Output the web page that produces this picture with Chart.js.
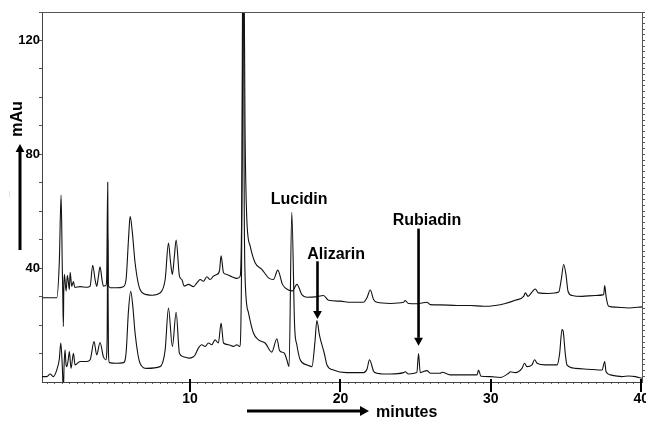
<!DOCTYPE html>
<html>
<head>
<meta charset="utf-8">
<script src="https://cdn.jsdelivr.net/npm/chart.js@4.4.0/dist/chart.umd.min.js"></script>
<style>
  html, body { margin: 0; padding: 0; background: #fff; }
</style>
</head>
<body>
<canvas id="myChart" width="646" height="425"></canvas>
<script>
// retention time (min) and absorbance (mAu)
const upperTime = [
  0.15, 1.13, 1.3, 1.42, 1.5, 1.53, 1.57, 1.6, 1.64, 1.75,
  1.84, 1.97, 2.02, 2.13, 2.24, 2.33, 2.68, 3.13, 3.35, 3.52,
  3.68, 3.79, 3.9, 4.01, 4.14, 4.23, 4.39, 4.45, 4.52, 4.56,
  4.68, 5.12, 5.56, 5.74, 5.9, 6.01, 6.15, 6.34, 6.67, 7.12,
  7.5, 8.0, 8.34, 8.56, 8.7, 8.82, 8.95, 9.07, 9.29, 9.45,
  9.6, 9.89, 10.22, 10.45, 10.67, 10.89, 11.11, 11.33, 11.55, 11.78,
  11.95, 12.06, 12.22, 12.44, 12.77, 13.11, 13.33, 13.45, 13.55, 13.65,
  13.77, 13.99, 14.32, 14.77, 15.21, 15.54, 15.83, 16.14, 16.54, 16.8,
  17.1, 17.43, 17.76, 18.32, 18.87, 19.2, 19.98, 20.65, 21.53, 21.76,
  21.98, 22.2, 22.42, 23.31, 24.19, 24.3, 24.52, 25.08, 25.75, 25.97,
  26.63, 27.74, 28.63, 29.51, 30.29, 30.96, 31.62, 32.18, 32.29, 32.47,
  32.73, 32.95, 33.17, 33.84, 34.51, 34.68, 34.84, 35.0, 35.13, 35.4,
  36.06, 36.95, 37.5, 37.57, 37.66, 37.83, 38.28, 39.16, 40.05
];
const upperAbs = [
  29.6, 29.6, 42, 65.7, 40, 31.4, 19.5, 33, 37.8, 31.9,
  37.5, 32.5, 38.5, 33.6, 35.3, 33.2, 33.5, 33.3, 33.7, 41.0,
  36.0, 33.6, 37.0, 40.5, 36.0, 33.7, 33.9, 36, 70.2, 34,
  33.1, 33.1, 33.5, 36.0, 50, 58.2, 53, 41.9, 32.5, 30.7,
  30.5, 31.3, 36.0, 48.8, 42, 37.8, 44, 49.9, 37.2, 36.0,
  33.7, 34.3, 33.5, 34.8, 36.0, 35.4, 37.0, 36.0, 37.2, 37.8,
  39.0, 44.3, 38.4, 37.8, 37.0, 36.4, 37.2, 70, 170, 90,
  57.2, 47.8, 41.9, 39.6, 36.6, 36.0, 39.3, 34.3, 32.3, 32.0,
  34.3, 30.7, 29.8, 29.9, 30.4, 28.7, 28.4, 28.0, 28.0, 29.6,
  32.3, 29.0, 28.0, 27.6, 28.0, 28.6, 27.6, 27.5, 28.0, 27.2,
  27.1, 26.9, 26.9, 26.6, 26.9, 27.6, 28.7, 30.1, 31.3, 30.1,
  31.6, 32.7, 31.3, 31.1, 31.6, 36.0, 41.3, 37.5, 31.9, 30.4,
  30.1, 30.4, 30.7, 33.9, 30.1, 26.6, 26.3, 26.0, 26.4
];

const lowerTime = [
  0.15, 0.47, 0.69, 0.9, 1.13, 1.3, 1.4, 1.5, 1.57, 1.62,
  1.68, 1.75, 1.8, 1.9, 1.97, 2.08, 2.24, 2.35, 2.68, 3.13,
  3.35, 3.61, 3.79, 4.01, 4.23, 4.39, 4.48, 4.52, 4.57, 4.63,
  5.12, 5.56, 5.74, 5.9, 6.05, 6.2, 6.34, 6.67, 7.12, 8.0,
  8.34, 8.56, 8.82, 9.07, 9.29, 9.55, 9.89, 10.22, 10.33, 10.55,
  10.77, 11.0, 11.22, 11.44, 11.66, 11.88, 12.06, 12.22, 12.55, 12.88,
  13.11, 13.29, 13.42, 13.52, 13.6, 13.66, 13.88, 14.21, 14.55, 14.99,
  15.43, 15.77, 15.95, 16.27, 16.43, 16.58, 16.76, 16.95, 17.1, 17.32,
  17.76, 18.1, 18.3, 18.43, 18.6, 18.92, 19.1, 19.53, 20.4, 21.53,
  21.76, 21.93, 22.2, 22.42, 23.31, 24.19, 24.3, 24.52, 25.08, 25.19,
  25.3, 25.75, 25.97, 26.63, 26.75, 27.3, 28.63, 29.08, 29.18, 29.34,
  29.96, 30.63, 31.18, 31.29, 31.62, 32.07, 32.24, 32.4, 32.73, 32.91,
  33.07, 33.62, 34.4, 34.57, 34.73, 34.8, 34.95, 35.06, 35.62, 36.5,
  37.39, 37.57, 37.66, 37.95, 38.72, 39.16, 39.61, 40.05
];
const lowerAbs = [
  1.9, 1.9, 2.8, 1.9, 4.2, 8, 13.7, 5.4, -3, 6,
  11.3, 6, 5.4, 8, 10.7, 4.8, 10.1, 6.0, 7.2, 7.2,
  7.8, 14.2, 9.5, 13.9, 8.9, 7.8, 15, 50, 10, 6.8,
  6.6, 6.8, 10.1, 25, 31.9, 26, 17.2, 6.6, 4.8, 5.4,
  11.3, 26.0, 12.5, 24.5, 10.1, 8.9, 8.4, 8.9, 9.5, 11.9,
  13.1, 12.5, 13.7, 13.1, 14.8, 13.7, 20.7, 13.7, 13.1, 12.5,
  13.1, 12.5, 40, 170, 60, 36, 24.3, 17.2, 14.8, 13.7,
  10.5, 15.2, 11.0, 10.1, 7.8, 5.4, 59.6, 19.5, 13.0, 7.8,
  6.0, 5.4, 14.0, 21.6, 16.5, 10.1, 6.0, 4.2, 3.3, 3.3,
  4.5, 7.8, 3.8, 3.1, 2.8, 3.3, 3.6, 2.8, 3.3, 10.0,
  3.3, 4.0, 3.1, 3.1, 3.4, 2.5, 2.5, 2.5, 4.2, 2.0,
  1.9, 1.6, 3.1, 3.6, 3.3, 4.8, 6.6, 5.4, 6.0, 7.8,
  6.6, 6.0, 6.0, 9.9, 18.4, 18.0, 9.9, 6.0, 4.8, 4.5,
  4.2, 7.2, 3.6, 2.5, 1.9, 2.1, 1.9, 1.3
];

const xLabelValues = [10, 20, 30, 40];
const yLabelValues = [40, 80, 120];

const FONT = "'Liberation Sans', Arial, sans-serif";

const toPoints = (times, values) => times.map((t, i) => ({ x: t, y: values[i] }));

const steps = (from, to, step) => {
  const out = [];
  for (let v = from; v <= to + 1e-9; v += step) out.push({ value: Math.round(v * 100) / 100 });
  return out;
};

// peak names, placed in data units
const peakNotes = [
  { text: "Lucidin", tx: 17.25, ty: 64 },
  { text: "Alizarin", tx: 19.71, ty: 44.9, ax: 18.47, from: 42.4, to: 22.1 },
  { text: "Rubiadin", tx: 25.75, ty: 56.6, ax: 25.19, from: 53.9, to: 12.7 },
];

function arrow(ctx, x1, y1, x2, y2, width, head) {
  const ang = Math.atan2(y2 - y1, x2 - x1);
  const bx = x2 - head * Math.cos(ang);
  const by = y2 - head * Math.sin(ang);
  const half = head * 0.55;
  ctx.lineWidth = width;
  ctx.beginPath();
  ctx.moveTo(x1, y1);
  ctx.lineTo(bx, by);
  ctx.stroke();
  ctx.beginPath();
  ctx.moveTo(x2, y2);
  ctx.lineTo(bx + half * Math.sin(ang), by - half * Math.cos(ang));
  ctx.lineTo(bx - half * Math.sin(ang), by + half * Math.cos(ang));
  ctx.closePath();
  ctx.fill();
}

// keep the plot box fixed: no extra room for the edge labels
const noSidePad = (s) => {
  s.paddingLeft = 0;
  s.paddingRight = 0;
  s.paddingTop = 0;
  s.paddingBottom = 0;
};

const decor = {
  id: "decor",
  afterDraw(chart) {
    const { ctx, chartArea: a } = chart;
    const x = chart.scales.x;
    const y = chart.scales.y;
    ctx.save();

    // top frame line
    ctx.strokeStyle = "#555";
    ctx.lineWidth = 1;
    ctx.beginPath();
    ctx.moveTo(a.left, a.top + 0.5);
    ctx.lineTo(a.right, a.top + 0.5);
    ctx.stroke();

    // long ticks at the labelled minutes
    ctx.strokeStyle = "#000";
    ctx.lineWidth = 2;
    xLabelValues.forEach((v) => {
      const px = Math.round(x.getPixelForValue(v));
      ctx.beginPath();
      ctx.moveTo(px, a.bottom - 3);
      ctx.lineTo(px, a.bottom + 10);
      ctx.stroke();
    });

    ctx.fillStyle = "#000";
    ctx.strokeStyle = "#000";
    ctx.font = "bold 16px " + FONT;
    ctx.textAlign = "center";
    ctx.textBaseline = "middle";
    peakNotes.forEach((n) => {
      ctx.fillText(n.text, x.getPixelForValue(n.tx), y.getPixelForValue(n.ty));
      if (n.ax !== undefined) {
        const px = x.getPixelForValue(n.ax);
        arrow(ctx, px, y.getPixelForValue(n.from), px, y.getPixelForValue(n.to), 2.6, 8);
      }
    });

    // axis titles with arrows
    arrow(ctx, 20, 250, 20, 144, 3, 8);
    ctx.save();
    ctx.translate(17.5, 119);
    ctx.rotate(-Math.PI / 2);
    ctx.fillText("mAu", 0, 0);
    ctx.restore();

    arrow(ctx, 247, 411, 369, 411, 3, 9);
    ctx.textAlign = "left";
    ctx.textBaseline = "alphabetic";
    ctx.fillText("minutes", 376, 417);

    ctx.save();
    ctx.fillStyle = "#777";
    ctx.font = "7px " + FONT;
    ctx.translate(10, 194);
    ctx.rotate(-Math.PI / 2);
    ctx.textAlign = "center";
    ctx.fillText("...", 0, 0);
    ctx.restore();

    ctx.restore();
  },
};

new Chart("myChart", {
  type: "line",
  data: {
    datasets: [
      {
        label: "upper",
        data: toPoints(upperTime, upperAbs),
        borderColor: "#111",
        borderWidth: 1.1,
        pointRadius: 0,
        cubicInterpolationMode: "monotone",
      },
      {
        label: "lower",
        data: toPoints(lowerTime, lowerAbs),
        borderColor: "#111",
        borderWidth: 1.1,
        pointRadius: 0,
        cubicInterpolationMode: "monotone",
      },
    ],
  },
  options: {
    responsive: false,
    animation: false,
    layout: { padding: { top: 12, left: 0, right: 0, bottom: 0 }, autoPadding: false },
    plugins: {
      legend: { display: false },
      tooltip: { enabled: false },
    },
    scales: {
      x: {
        type: "linear",
        position: "bottom",
        min: 0.15,
        max: 40.05,
        afterBuildTicks: (s) => {
          s.ticks = steps(0.5, 40, 0.5);
        },
        afterFit: (s) => {
          s.height = 43;
          noSidePad(s);
        },
        grid: { drawOnChartArea: false, drawTicks: true, tickLength: 2, tickColor: "#666" },
        border: { color: "#444", width: 1 },
        ticks: {
          autoSkip: false,
          maxRotation: 0,
          minRotation: 0,
          padding: 7,
          color: "#000",
          font: { family: FONT, size: 14, weight: "bold" },
          callback: (v) => (xLabelValues.includes(v) ? String(v) : ""),
        },
      },
      y: {
        position: "left",
        min: 0,
        max: 130,
        afterBuildTicks: (s) => {
          s.ticks = steps(10, 130, 10);
        },
        afterFit: (s) => {
          s.width = 42;
          noSidePad(s);
        },
        grid: { drawOnChartArea: false, drawTicks: true, tickLength: 3, tickColor: "#555" },
        border: { color: "#444", width: 1 },
        ticks: {
          autoSkip: false,
          padding: -1,
          color: "#000",
          font: { family: FONT, size: 13, weight: "bold" },
          callback: (v) => (yLabelValues.includes(v) ? String(v) : ""),
        },
      },
      y2: {
        position: "right",
        min: 0,
        max: 130,
        afterBuildTicks: (s) => {
          s.ticks = steps(2, 130, 2);
        },
        afterFit: (s) => {
          s.width = 4;
          noSidePad(s);
        },
        grid: { drawOnChartArea: false, drawTicks: true, tickLength: 3, tickColor: "#555" },
        border: { color: "#555", width: 1 },
        ticks: { display: false, autoSkip: false },
      },
    },
  },
  plugins: [decor],
});
</script>
</body>
</html>
